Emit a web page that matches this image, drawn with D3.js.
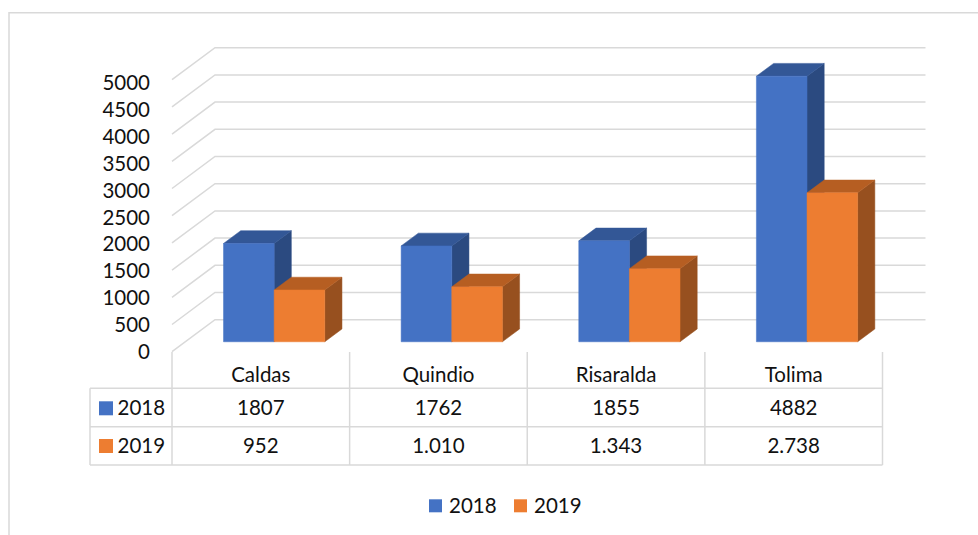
<!DOCTYPE html>
<html>
<head>
<meta charset="utf-8">
<script src="https://cdn.jsdelivr.net/npm/d3@7/dist/d3.min.js"></script>
<style>
  html, body { margin: 0; padding: 0; background: #ffffff; }
  svg { display: block; font-family: Lato, "Open Sans", sans-serif; }
</style>
</head>
<body>
<svg id="chart" width="978" height="535"></svg>
<script>
// Departments and yearly totals
const categories = ["Caldas", "Quindio", "Risaralda", "Tolima"];
const seriesNames = ["2018", "2019"];
const values2018 = [1807, 1762, 1855, 4882];
const values2019 = [952, 1010, 1343, 2738];
// Text shown in the data table under the plot
const tableLabels2018 = ["1807", "1762", "1855", "4882"];
const tableLabels2019 = ["952", "1.010", "1.343", "2.738"];
const yTicks = [0, 500, 1000, 1500, 2000, 2500, 3000, 3500, 4000, 4500, 5000];

const seriesValues = [values2018, values2019];
const tableLabels = [tableLabels2018, tableLabels2019];
const colors = {
  "2018": { front: "#4472C4", top: "#335796", side: "#2B4A80" },
  "2019": { front: "#ED7D31", top: "#B65E22", side: "#97501F" }
};

const svg = d3.select("#chart");
const gridColor = "#D9D9D9";
const textColor = "#111111";

// Oblique projection: depth z in [0,1] shifts points right and up
const DX = 43, DY = 32;
const x = d3.scaleBand().domain(categories).range([172, 882.5]).paddingInner(0).paddingOuter(0);
const y = d3.scaleLinear().domain([0, 5000]).range([351.7, 79.7]);
const proj = (xf, v, z) => [xf + z * DX, y(v) - z * DY];

// Chart frame
svg.append("path")
  .attr("d", "M9,535 L9,12.7 L978,12.7")
  .attr("fill", "none").attr("stroke", gridColor).attr("stroke-width", 1.5);

// Gridlines: side wall diagonal, then along the back wall
const [xL, xR] = x.range();
const grid = svg.append("g").attr("fill", "none").attr("stroke", gridColor).attr("stroke-width", 1.5);
yTicks.forEach(v => {
  const a = proj(xL, v, 0), b = proj(xL, v, 1), c = proj(xR, v, 1);
  grid.append("path").attr("d", `M${a}L${b}L${c}`);
});

// Value axis labels
const yLabel = d3.scaleLinear().domain([0, 5000]).range([351.7, 83.3]);
const yAxis = svg.append("g")
  .attr("transform", "translate(150,0)")
  .call(d3.axisLeft(yLabel).tickValues(yTicks).tickSize(0).tickPadding(0).tickFormat(d3.format("d")));
yAxis.select(".domain").remove();
yAxis.selectAll("text").attr("font-size", 20.5).attr("fill", textColor).attr("font-family", "Lato, sans-serif");

// 3D columns
const groupW = x.bandwidth() * 0.57;
const inner = d3.scaleBand().domain(seriesNames).range([0, groupW]);
const z0 = 0.31, z1 = 0.71;
const bars = svg.append("g");
categories.forEach((cat, i) => {
  const start = x(cat) + (x.bandwidth() - groupW) / 2;
  seriesNames.forEach((s, k) => {
    const v = seriesValues[k][i];
    const x0 = start + inner(s), x1 = x0 + inner.bandwidth();
    const col = colors[s];
    const poly = pts => "M" + pts.map(p => p.join(",")).join("L") + "Z";
    const g = bars.append("g");
    g.append("path")
      .attr("d", poly([proj(x1, 0, z0), proj(x1, v, z0), proj(x1, v, z1), proj(x1, 0, z1)]))
      .attr("fill", col.side).attr("stroke", col.side).attr("stroke-width", 0.5);
    g.append("path")
      .attr("d", poly([proj(x0, v, z0), proj(x1, v, z0), proj(x1, v, z1), proj(x0, v, z1)]))
      .attr("fill", col.top).attr("stroke", col.top).attr("stroke-width", 0.5);
    g.append("path")
      .attr("d", poly([proj(x0, 0, z0), proj(x0, v, z0), proj(x1, v, z0), proj(x1, 0, z0)]))
      .attr("fill", col.front).attr("stroke", col.front).attr("stroke-width", 0.5);
  });
});

// Data table
const rowTop = 352, row1 = 388.3, row2 = 426.7, row3 = 465;
const headerLeft = 90;
const table = svg.append("g").attr("stroke", gridColor).attr("stroke-width", 1.5).attr("fill", "none");
const bounds = categories.map(c => x(c)).concat([xR]);
bounds.forEach(bx => table.append("line").attr("x1", bx).attr("x2", bx).attr("y1", rowTop).attr("y2", row3));
[row1, row2, row3].forEach(ry => table.append("line").attr("x1", headerLeft).attr("x2", xR).attr("y1", ry).attr("y2", ry));
table.append("line").attr("x1", headerLeft).attr("x2", headerLeft).attr("y1", row1).attr("y2", row3);

const txt = svg.append("g").attr("font-size", 20.5).attr("fill", textColor).attr("text-anchor", "middle");
categories.forEach(c => {
  txt.append("text").attr("x", x(c) + x.bandwidth() / 2).attr("y", 375).attr("dy", "0.35em").text(c);
});
const rowCenters = [408.3, 446];
seriesNames.forEach((s, k) => {
  categories.forEach((c, i) => {
    txt.append("text").attr("x", x(c) + x.bandwidth() / 2).attr("y", rowCenters[k]).attr("dy", "0.35em").text(tableLabels[k][i]);
  });
  svg.append("rect").attr("x", 99).attr("y", rowCenters[k] - 7).attr("width", 14).attr("height", 14).attr("fill", colors[s].front);
  svg.append("text").attr("x", 117.5).attr("y", rowCenters[k]).attr("dy", "0.35em")
    .attr("font-size", 20.5).attr("fill", textColor).text(s);
});

// Legend
const legendX = [429, 514];
seriesNames.forEach((s, k) => {
  svg.append("rect").attr("x", legendX[k]).attr("y", 499.3).attr("width", 13).attr("height", 13).attr("fill", colors[s].front);
  svg.append("text").attr("x", legendX[k] + 20).attr("y", 505.5).attr("dy", "0.35em")
    .attr("font-size", 20.5).attr("fill", textColor).text(s);
});
</script>
</body>
</html>
